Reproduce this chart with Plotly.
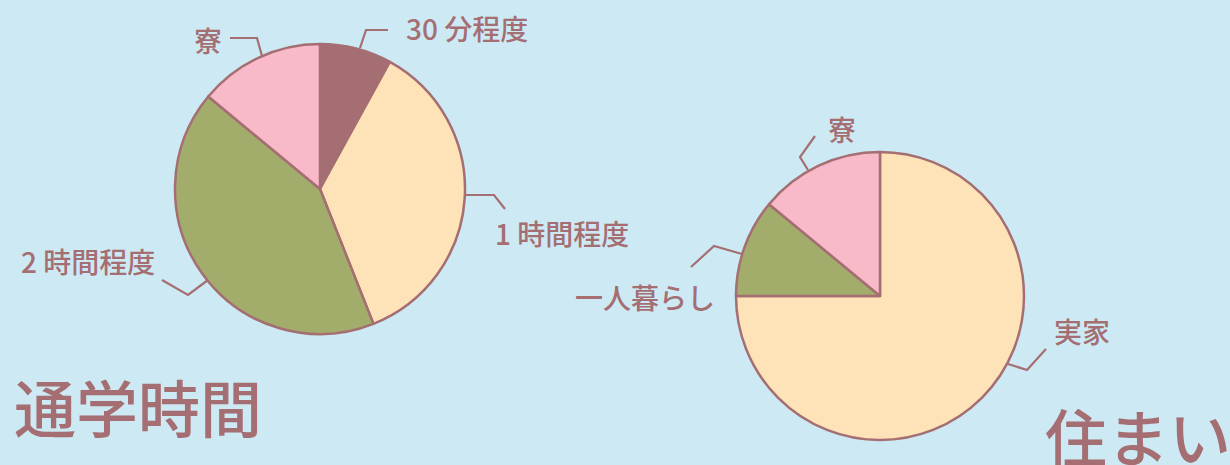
import plotly.graph_objects as go

# ---- data ----
commute_labels = ["30 分程度", "1 時間程度", "2 時間程度", "寮"]
commute_values = [8, 36, 42, 14]
commute_colors = ["#a46e72", "#ffe3b8", "#a3ad6b", "#f8b9c9"]

housing_labels = ["実家", "一人暮らし", "寮"]
housing_values = [75, 11, 14]
housing_colors = ["#ffe3b8", "#a3ad6b", "#f8b9c9"]

titles = ["通学時間", "住まい"]

# ---- layout helpers ----
W, H = 1230, 465
BG = "#cdeaf4"
INK = "#a46e72"
FONT = "Noto Sans CJK JP"


def px(x):
    return x / W


def py(y):
    return 1 - y / H


fig = go.Figure()

fig.add_trace(go.Pie(
    labels=commute_labels, values=commute_values,
    marker=dict(colors=commute_colors, line=dict(color=INK, width=2.5)),
    sort=False, direction="clockwise", rotation=0,
    textinfo="none", showlegend=False,
    domain=dict(x=[px(175), px(465)], y=[py(334), py(44)]),
))

fig.add_trace(go.Pie(
    labels=housing_labels, values=housing_values,
    marker=dict(colors=housing_colors, line=dict(color=INK, width=2.5)),
    sort=False, direction="clockwise", rotation=0,
    textinfo="none", showlegend=False,
    domain=dict(x=[px(736), px(1024)], y=[py(440), py(152)]),
))

# label positions (pixel centres) and leader paths
left_label_pos = {"30 分程度": (467, 28), "1 時間程度": (562, 233),
                  "2 時間程度": (88, 261), "寮": (208, 40)}
right_label_pos = {"実家": (1082, 331), "一人暮らし": (645, 297), "寮": (842, 129)}

leaders = [
    [(360, 48), (366, 30), (388, 30)],
    [(465, 195), (494, 195), (505, 209)],
    [(208, 280), (188, 295), (162, 280)],
    [(262, 56), (257, 38), (230, 38)],
    [(1008, 364), (1027, 370), (1046, 349)],
    [(742, 254), (714, 246), (691, 267)],
    [(808, 170), (800, 157), (815, 136)],
]

LABEL_FONT = dict(family=FONT, size=28, color=INK, weight=500)
TITLE_FONT = dict(family=FONT, size=62, color=INK, weight=500)

annotations = []
for lab in commute_labels:
    x, y = left_label_pos[lab]
    annotations.append(dict(text=lab, x=px(x), y=py(y), xref="paper", yref="paper",
                            showarrow=False, xanchor="center", yanchor="middle",
                            font=LABEL_FONT))
for lab in housing_labels:
    x, y = right_label_pos[lab]
    annotations.append(dict(text=lab, x=px(x), y=py(y), xref="paper", yref="paper",
                            showarrow=False, xanchor="center", yanchor="middle",
                            font=LABEL_FONT))

annotations.append(dict(text=titles[0], x=px(12), y=py(406), xref="paper", yref="paper",
                        showarrow=False, xanchor="left", yanchor="middle",
                        font=TITLE_FONT))
annotations.append(dict(text=titles[1], x=px(1043), y=py(435), xref="paper", yref="paper",
                        showarrow=False, xanchor="left", yanchor="middle",
                        font=TITLE_FONT))

shapes = []
for pts in leaders:
    d = "M " + " L ".join(f"{px(x)},{py(y)}" for x, y in pts)
    shapes.append(dict(type="path", path=d, xref="paper", yref="paper",
                       line=dict(color=INK, width=2.2)))

fig.update_layout(
    width=W, height=H,
    margin=dict(l=0, r=0, t=0, b=0),
    paper_bgcolor=BG, plot_bgcolor=BG,
    annotations=annotations, shapes=shapes,
    showlegend=False,
)

fig.write_html(
    "out.html",
    config={"displayModeBar": False},
    post_script="document.body.style.margin='0px';document.body.style.overflow='hidden';",
)
